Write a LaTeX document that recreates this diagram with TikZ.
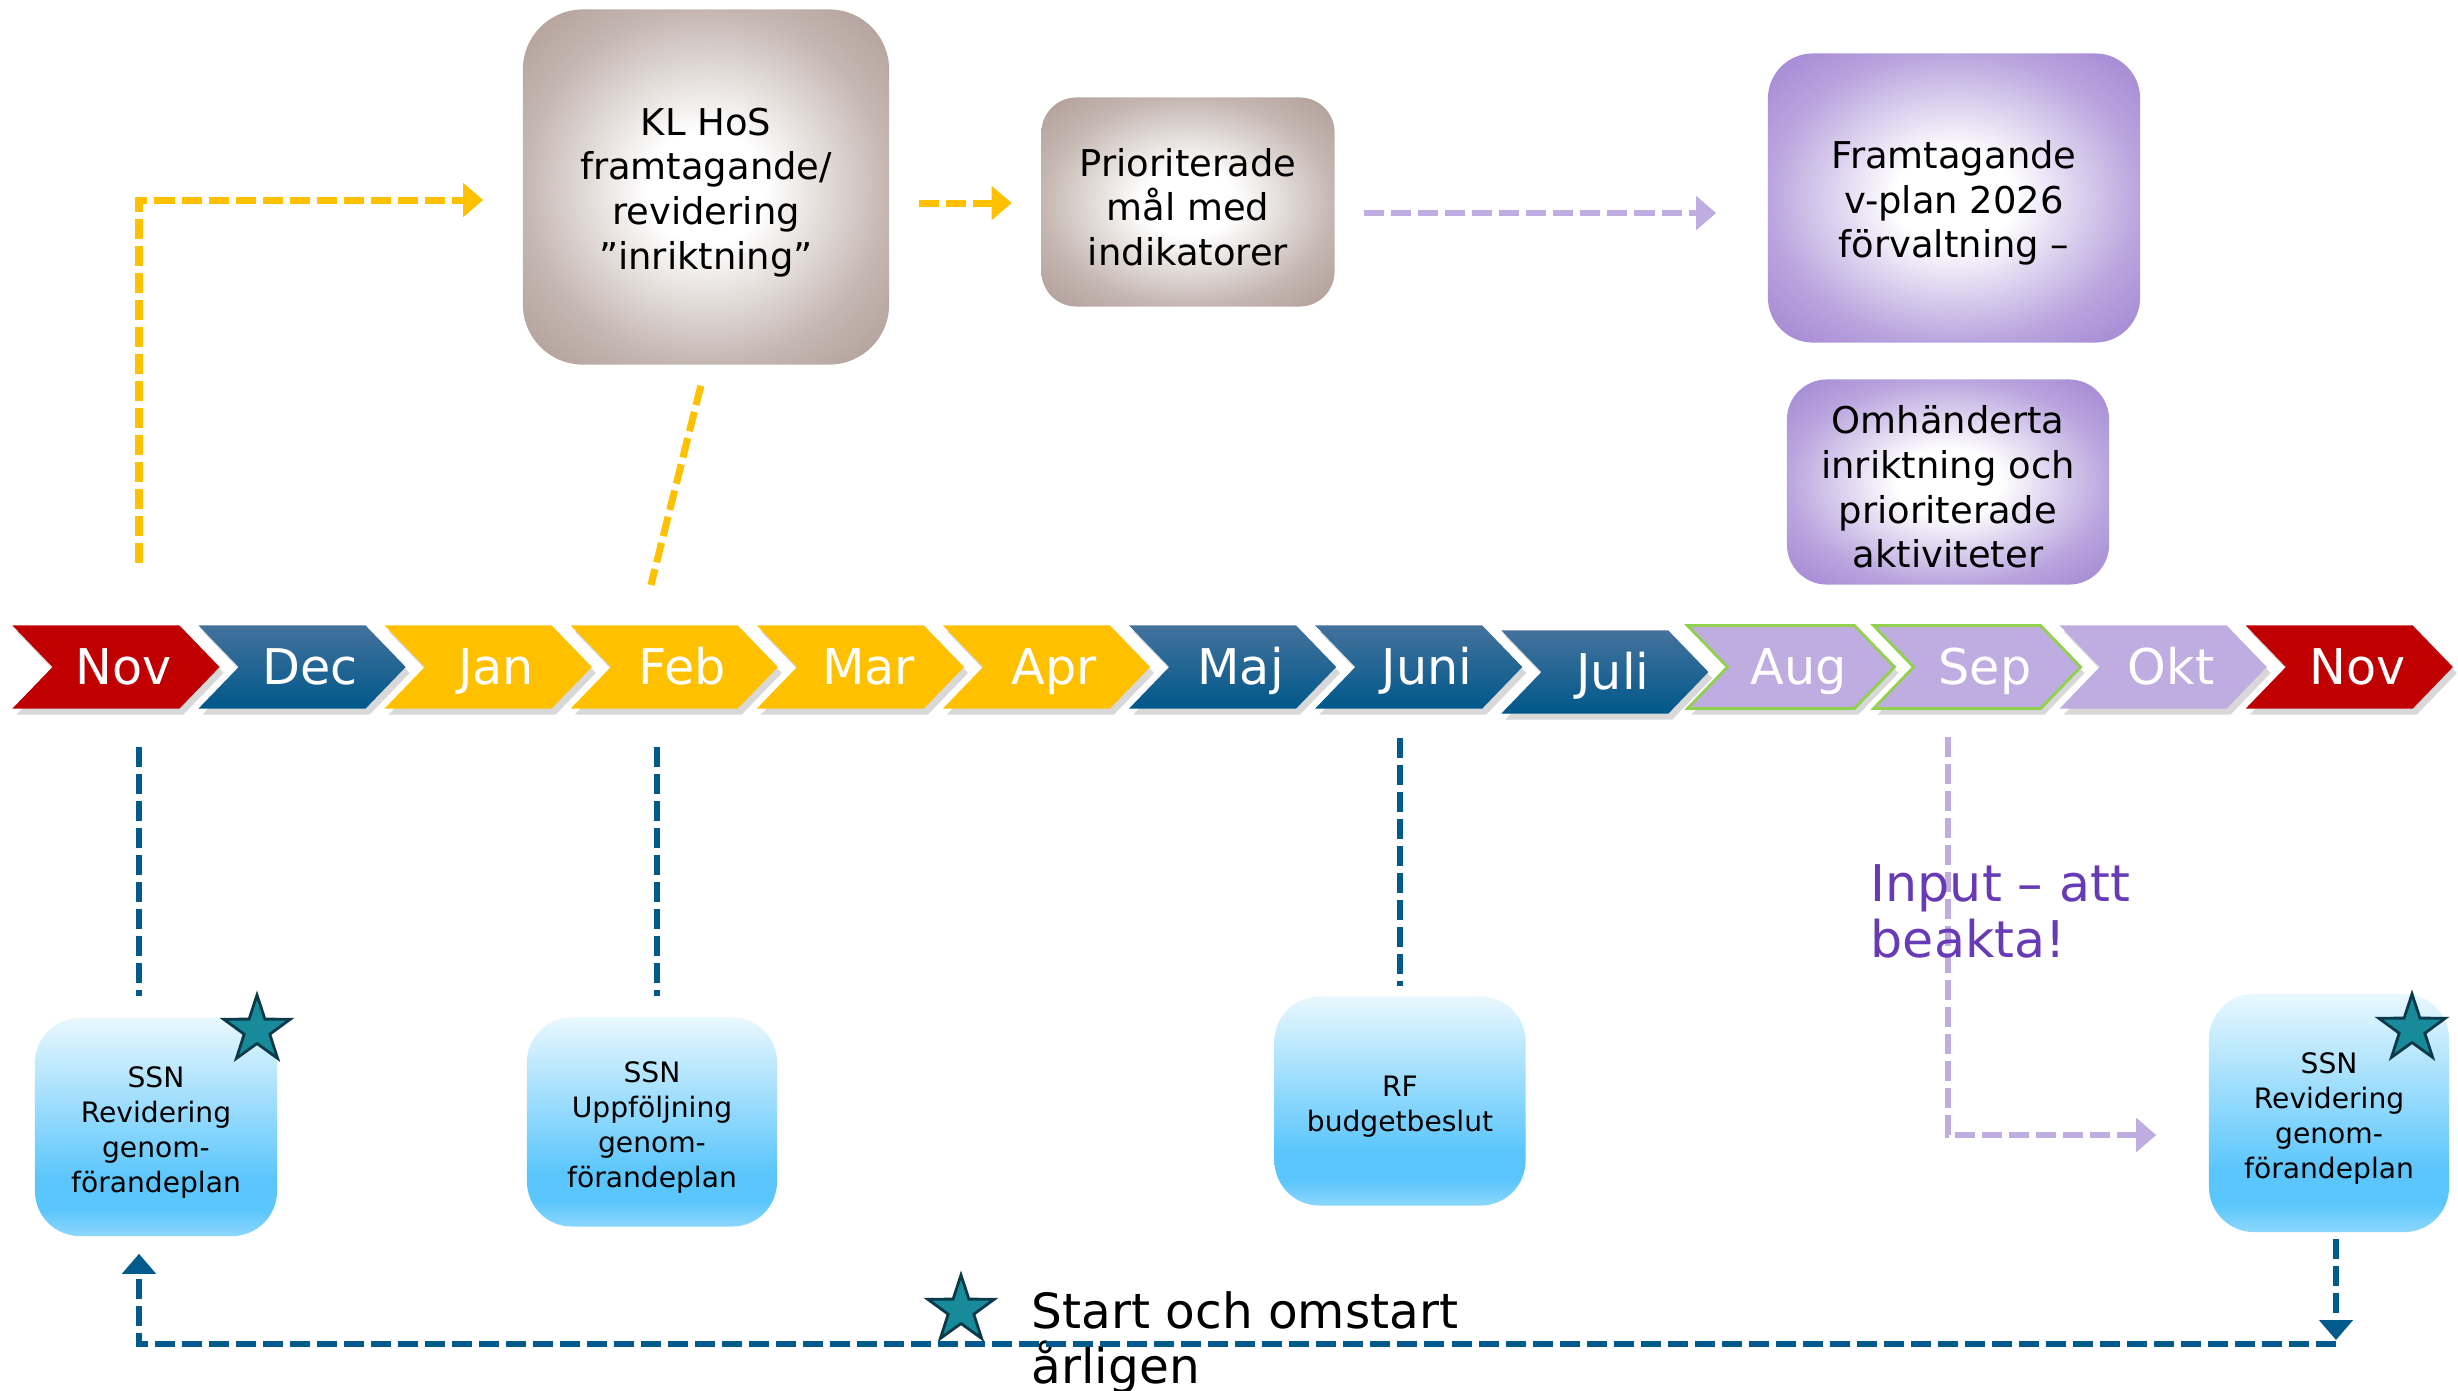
\documentclass[tikz,border=0pt]{standalone}
\usepackage{fontspec}
\setmainfont{DejaVu Sans}
\usepackage{tikz}
\usetikzlibrary{arrows.meta,shapes,positioning,shadows}
\usepackage{xcolor}
\definecolor{nsred}{RGB}{192,0,0}
\definecolor{nsyellow}{RGB}{255,192,0}
\definecolor{nsbluetop}{RGB}{68,114,157}
\definecolor{nsblue}{RGB}{0,88,138}
\definecolor{nslilac}{RGB}{191,172,224}
\definecolor{nsgreen}{RGB}{146,208,80}
\definecolor{nstaupe}{RGB}{176,158,150}
\definecolor{nspurple}{RGB}{162,134,211}
\definecolor{nstext}{RGB}{103,58,183}
\definecolor{nsteal}{RGB}{24,139,155}
\definecolor{nsdark}{RGB}{12,58,74}
\definecolor{nslink}{RGB}{0,90,140}
\definecolor{skytop}{RGB}{233,248,254}
\definecolor{skymid}{RGB}{91,198,252}
\definecolor{skylow}{RGB}{140,215,253}
\pgfdeclareradialshading{taupeglow}{\pgfpoint{0bp}{0bp}}{color(0bp)=(white); color(8bp)=(white); color(25bp)=(nstaupe!75!white); color(35bp)=(nstaupe); color(50bp)=(nstaupe)}
\pgfdeclareradialshading{lilacglow}{\pgfpoint{0bp}{0bp}}{color(0bp)=(white); color(8bp)=(white); color(25bp)=(nspurple!75!white); color(35bp)=(nspurple); color(50bp)=(nspurple)}
\pgfdeclareverticalshading{skyfade}{100bp}{color(0bp)=(skylow); color(25bp)=(skylow); color(31bp)=(skymid); color(38bp)=(skymid); color(75bp)=(skytop); color(100bp)=(skytop)}
\newcommand{\capstrut}{\rule{0pt}{\dimexpr 0.76em+0.1cm\relax}}
\tikzstyle{month} = [signal, signal from=west, signal to=east, signal pointer angle=92, minimum width=2.07cm, minimum height=0.83cm, inner sep=0pt, text height=1.07em, text depth=0.1em, text=white, font=\fontsize{14}{16}\selectfont, execute at begin node={\hspace*{0.16cm}}, drop shadow={shadow xshift=0.04cm, shadow yshift=-0.06cm, opacity=0.3}]
\tikzstyle{monthred} = [month, fill=nsred]
\tikzstyle{monthblue} = [month, top color=nsbluetop, bottom color=nsblue]
\tikzstyle{monthyellow} = [month, fill=nsyellow]
\tikzstyle{monthlilac} = [month, fill=nslilac]
\tikzstyle{monthlilacg} = [monthlilac, draw=nsgreen, line width=0.8pt]
\tikzstyle{planbox} = [rectangle, shade, shading=taupeglow, align=center, inner sep=0pt, font=\fontsize{10.5}{12.7}\selectfont]
\tikzstyle{vplanbox} = [planbox, shading=lilacglow, rounded corners=0.45cm]
\tikzstyle{ssnbox} = [rectangle, shade, shading=skyfade, rounded corners=0.45cm, align=center, inner sep=0pt, font=\fontsize{8}{10}\selectfont]
\tikzstyle{badge} = [star, star points=5, star point ratio=2.6, minimum size=0.7cm, inner sep=0pt, fill=nsteal, draw=nsdark, line width=0.8pt]
\tikzstyle{yellowdash} = [line width=0.07cm, dash pattern=on 0.2cm off 0.07cm, color=nsyellow]
\tikzstyle{lilacdash} = [line width=0.065cm, dash pattern=on 0.2cm off 0.07cm, color=nslilac]
\tikzstyle{bluedash} = [line width=0.065cm, dash pattern=on 0.2cm off 0.07cm, color=nslink]
\tikzstyle{tip} = [-{Triangle[length=0.2cm,width=0.33cm]}]

\begin{document}
\begin{tikzpicture}[x=0.01cm, y=-0.01cm, node distance=1.86cm]
\fill[white] (0,0) rectangle (2458,1390);
\useasboundingbox (0,0) rectangle (2458,1390);

% Months
\node[monthred] (m1) at (116,667) {Nov};
\node[monthblue, right of=m1] (m2) {Dec};
\node[monthyellow, right of=m2] (m3) {Jan};
\node[monthyellow, right of=m3] (m4) {Feb};
\node[monthyellow, right of=m4] (m5) {Mar};
\node[monthyellow, right of=m5] (m6) {Apr};
\node[monthblue, right of=m6] (m7) {Maj};
\node[monthblue, right of=m7] (m8) {Juni};
\node[monthblue, right of=m8, yshift=-0.05cm] (m9) {Juli};
\node[monthlilacg, right of=m9, yshift=0.05cm] (m10) {Aug};
\node[monthlilacg, right of=m10] (m11) {Sep};
\node[monthlilac, right of=m11] (m12) {Okt};
\node[monthred, right of=m12] (m13) {Nov};

% Top row
\node[planbox, minimum width=3.66cm, minimum height=3.55cm, rounded corners=0.6cm] (kl) at (706,187) {\capstrut KL HoS\\framtagande/\\revidering\\”inriktning”};
\node[planbox, minimum width=2.93cm, minimum height=2.09cm, rounded corners=0.35cm] (prio) at (1188,202) {\capstrut Prioriterade\\mål med\\indikatorer};
\node[vplanbox, minimum width=3.72cm, minimum height=2.89cm] (fram) at (1954,198) {\capstrut Framtagande\\v-plan 2026\\förvaltning –};
\node[vplanbox, minimum width=3.22cm, minimum height=2.05cm, rounded corners=0.4cm] (omh) at (1948,482) {\capstrut Omhänderta\\inriktning och\\prioriterade\\aktiviteter};

% Bottom row
\node[ssnbox, minimum width=2.42cm, minimum height=2.18cm] (ssnA) at (156,1127) {\capstrut SSN\\Revidering\\genom-\\förandeplan};
\node[ssnbox, minimum width=2.5cm, minimum height=2.09cm] (ssnB) at (652,1122) {\capstrut SSN\\Uppföljning\\genom-\\förandeplan};
\node[ssnbox, minimum width=2.51cm, minimum height=2.09cm] (rf) at (1400,1101) {\capstrut RF\\budgetbeslut};
\node[ssnbox, minimum width=2.4cm, minimum height=2.38cm] (ssnD) at (2329,1113) {\capstrut SSN\\Revidering\\genom-\\förandeplan};

% Helper lines
\coordinate (xnov) at (139,0);
\coordinate (xfeb) at (657,0);
\coordinate (xdiag) at (641,0);
\coordinate (xjuni) at (1400,0);
\coordinate (xsep) at (1948,0);
\coordinate (xend) at (2336,0);
\coordinate (ytop) at (0,200);
\coordinate (yprio) at (0,203);
\coordinate (yfram) at (0,213);
\coordinate (yinput) at (0,1135);
\coordinate (yloop) at (0,1344);

% Links
\draw[yellowdash, tip, shorten <=0.62cm, shorten >=0.39cm] (m1.north -| xnov) |- (kl.west |- ytop);
\draw[yellowdash, tip, shorten <=0.29cm, shorten >=0.29cm] (kl.east |- yprio) -- (prio.west |- yprio);
\draw[yellowdash, shorten <=0.21cm, shorten >=0.41cm] (kl.south) -- (m4.north -| xdiag);
\draw[lilacdash, tip, shorten <=0.29cm, shorten >=0.51cm] (prio.east |- yfram) -- (fram.west |- yfram);

\draw[bluedash, shorten <=0.38cm, shorten >=0.21cm] (m1.south -| xnov) -- (ssnA.north -| xnov);
\draw[bluedash, shorten <=0.38cm, shorten >=0.21cm] (m4.south -| xfeb) -- (ssnB.north -| xfeb);
\draw[bluedash, shorten <=0.29cm, shorten >=0.1cm] (m8.south -| xjuni) -- (rf.north);
\draw[lilacdash, tip, shorten <=0.27cm, shorten >=0.52cm] (m11.south -| xsep) |- (ssnD.west |- yinput);

\node[anchor=north west, inner sep=0pt, align=left, text=nstext, font=\fontsize{14.4}{15.9}\selectfont] (input) at (1870,864) {Input – att\\beakta!};
\node[anchor=north west, inner sep=0pt, align=left, font=\fontsize{13.8}{15.6}\selectfont] (restart) at (1031,1291) {Start och omstart\\årligen};

% Yearly loop
\draw[bluedash, tip, shorten <=0.06cm, shorten >=0.04cm] (ssnD.south -| xend) -- (xend |- yloop);
\draw[bluedash, tip, shorten >=0.17cm] (xend |- yloop) -- (xnov |- yloop) -- (ssnA.south -| xnov);

% Stars
\node[badge] (starA) at (257,1030) {};
\node[badge] (starD) at (2412,1029) {};
\node[badge] (starkey) at (961,1310) {};
\end{tikzpicture}
\end{document}
